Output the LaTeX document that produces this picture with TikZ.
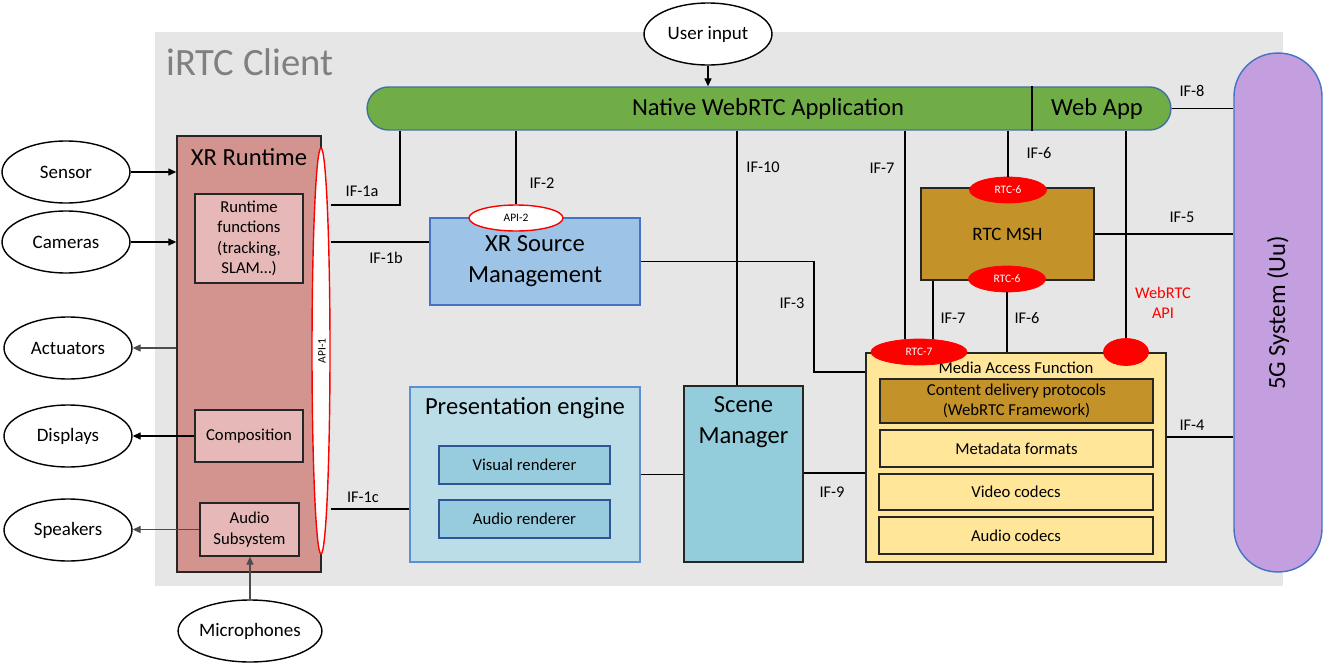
\documentclass[tikz,border=0pt]{standalone}
\usepackage{fontspec}
\setmainfont{Carlito}
\usetikzlibrary{shapes.geometric,arrows.meta}

\definecolor{clientGray}{HTML}{E6E6E6}
\definecolor{clientText}{HTML}{808080}
\definecolor{appGreen}{HTML}{70AD47}
\definecolor{appBorder}{HTML}{41719C}
\definecolor{fiveGPurple}{HTML}{C49FE0}
\definecolor{fiveGBorder}{HTML}{4472C4}
\definecolor{xrRed}{HTML}{D3948F}
\definecolor{xrPink}{HTML}{E6B9B8}
\definecolor{srcBlue}{HTML}{9DC3E6}
\definecolor{srcBorder}{HTML}{4472C4}
\definecolor{presBlue}{HTML}{BBDDE8}
\definecolor{presBorder}{HTML}{5B8FCF}
\definecolor{rendBlue}{HTML}{96CCDD}
\definecolor{rendBorder}{HTML}{2F5597}
\definecolor{sceneBlue}{HTML}{93CDDC}
\definecolor{mafYellow}{HTML}{FFE699}
\definecolor{mshGold}{HTML}{C3932A}

\begin{document}
\begin{tikzpicture}
[x=0.02cm,y=-0.02cm,
  lineDecorate/.style={-,line width=0.6pt},%
  arrowDecorate/.style={-{Triangle[length=4.5pt,width=4pt]},line width=0.6pt},%
  bigText/.style={font=\fontsize{14}{17.6}\selectfont},%
  midText/.style={font=\fontsize{9.5}{11.6}\selectfont},%
  ifText/.style={font=\fontsize{9.3}{11.4}\selectfont,inner sep=0pt},%
  tinyText/.style={font=\fontsize{6.5}{8}\selectfont},%
  nodeDecorate/.style={shape=ellipse,draw,line width=0.8pt,inner sep=0pt,
    minimum width=2.56cm,minimum height=1.24cm,fill=white,
    font=\fontsize{10.8}{13}\selectfont},%
  boxDecorate/.style 2 args={rectangle,draw=black!85,line width=0.8pt,inner sep=0pt,
    minimum width={#1*0.02cm},minimum height={#2*0.02cm},align=center},%
  rtcDecorate/.style 2 args={ellipse,fill=red,draw=red,inner sep=0pt,
    minimum width={#1*0.02cm},minimum height={#2*0.02cm},text=white,tinyText}]
\useasboundingbox (0,0) rectangle (1323,663);

%% client area
\fill[clientGray] (155,32) rectangle (1283,586);
\node[anchor=west,inner sep=0pt,text=clientText,font=\fontsize{22}{26}\selectfont]
  (title) at (166,62) {iRTC Client};

%% outside nodes
\foreach \nodename/\nodetext/\x/\y in {sensor/Sensor/66/172, cameras/Cameras/66/242,
  actuators/Actuators/68/348, displays/Displays/68/436, speakers/Speakers/68/530,
  microphones/Microphones/250/631, user/User input/708/34}
{
  \node (\nodename) at (\x,\y) [nodeDecorate] {\nodetext};
}

%% application bar and 5G system
\node[rectangle,rounded corners=0.43cm,fill=appGreen,draw=appBorder,line width=0.8pt,
  minimum width=16.08cm,minimum height=0.86cm] (app) at (769,108.5) {};
\draw[lineDecorate] (app.north -| 1032,0) -- (app.south -| 1032,0);
\node[bigText] (appText) at (768,109) {Native WebRTC Application};
\node[bigText] (webText) at (1097,109) {Web App};
\node[rectangle,rounded corners=0.87cm,fill=fiveGPurple,draw=fiveGBorder,line width=0.8pt,
  minimum width=1.76cm,minimum height=10.38cm] (fiveg) at (1278,312.5) {};
\node[bigText,rotate=90] (fivegText) at (1278,313) {5G System (Uu)};

%% XR runtime
\node[boxDecorate={144}{436},fill=xrRed] (xrrt) at (249,354) {};
\node[bigText] (xrrtText) at (249,157) {XR Runtime};
\node[boxDecorate={108}{89},fill=xrPink,midText] (rtfunc) at (249,238.5)
  {Runtime\\functions\\(tracking,\\SLAM…)};
\node[boxDecorate={108}{52},fill=xrPink,midText] (compo) at (249,436) {Composition};
\node[boxDecorate={99}{53},fill=xrPink,midText] (audiosub) at (249.5,529.5) {Audio\\Subsystem};
\node[ellipse,draw=red,fill=white,line width=0.8pt,inner sep=0pt,
  minimum width=0.36cm,minimum height=8.12cm] (api1) at (321,351) {};
\node[tinyText,rotate=90] (api1Text) at (322,351) {API-1};

%% XR source management, presentation engine, scene manager
\node[boxDecorate={210}{87},fill=srcBlue,draw=srcBorder,bigText] (xrsm) at (535,261.5)
  {XR Source\\Management};
\node[ellipse,draw=red,fill=white,line width=0.8pt,inner sep=0pt,tinyText,
  minimum width=1.88cm,minimum height=0.52cm] (api2) at (516,218) {API-2};
\node[boxDecorate={230}{175},fill=presBlue,draw=presBorder] (pres) at (525,474.5) {};
\node[bigText] (presText) at (525,408) {Presentation engine};
\node[boxDecorate={171}{38},fill=rendBlue,draw=rendBorder,midText] (visr) at (524.5,465)
  {Visual renderer};
\node[boxDecorate={171}{38},fill=rendBlue,draw=rendBorder,midText] (audr) at (524.5,519)
  {Audio renderer};
\node[boxDecorate={119}{176},fill=sceneBlue] (scene) at (743.5,474) {};
\node[bigText,align=center] (sceneText) at (743.5,422) {Scene\\Manager};

%% RTC MSH and media access function
\node[boxDecorate={173}{92},fill=mshGold,font=\fontsize{10.8}{13}\selectfont] (msh)
  at (1007.5,234) {RTC MSH};
\node[boxDecorate={300}{209},fill=mafYellow] (maf) at (1016,457.5) {};
\node[midText] (mafText) at (1016,368) {Media Access Function};
\node[boxDecorate={273}{44},fill=mshGold,midText] (cdp) at (1016.5,401)
  {Content delivery protocols\\(WebRTC Framework)};
\node[boxDecorate={273}{37},fill=mafYellow,midText] (meta) at (1016.5,448.5) {Metadata formats};
\node[boxDecorate={274}{36},fill=mafYellow,midText] (video) at (1016,492) {Video codecs};
\node[boxDecorate={274}{37},fill=mafYellow,midText] (audioc) at (1016,535.5) {Audio codecs};
\node[rtcDecorate={77}{26}] (rtc6a) at (1008,190) {RTC-6};
\node[rtcDecorate={77}{26}] (rtc6b) at (1007,279) {RTC-6};
\node[rtcDecorate={96}{26}] (rtc7) at (919,352) {RTC-7};
\node[rtcDecorate={45}{27}] (webdot) at (1126,352) {};

%% arrows to and from devices
\draw[arrowDecorate] (user.south) -- (user.south |- app.north);
\draw[arrowDecorate] (sensor.east) -- (sensor.east -| xrrt.west);
\draw[arrowDecorate] (cameras.east) -- (cameras.east -| xrrt.west);
\draw[arrowDecorate,black!70] (actuators.east -| xrrt.west) -- (actuators.east);
\draw[arrowDecorate] (compo.west) -- (compo.west -| displays.east);
\draw[arrowDecorate,black!70] (audiosub.west) -- (audiosub.west -| speakers.east);
\draw[arrowDecorate,black!70] (microphones.north) -- (microphones.north |- audiosub.south);

%% interfaces
\coordinate (if3bend) at (814,372);
\draw[lineDecorate] (api1.east |- 0,205) -| (app.south -| 400,0);
\draw[lineDecorate] (api1.east |- 0,242) -- (xrsm.west |- 0,242);
\draw[lineDecorate] (api1.east |- 0,509) -- (pres.west |- 0,509);
\draw[lineDecorate] (app.south -| api2) -- (api2.north);
\draw[lineDecorate] (xrsm.east) -| (if3bend) -- (if3bend -| maf.west);
\draw[lineDecorate] (app.south -| 737,0) -- (scene.north -| 737,0);
\draw[lineDecorate] (pres.east) -- (pres.east -| scene.west);
\draw[lineDecorate] (scene.east |- 0,473) -- (maf.west |- 0,473);
\draw[lineDecorate] (app.south -| 905,0) -- (rtc7.north -| 905,0);
\draw[lineDecorate] (app.south -| rtc6a) -- (rtc6a.north);
\draw[lineDecorate] (app.south -| webdot) -- (webdot.north);
\draw[lineDecorate] (msh.south -| 933,0) -- (rtc7.north -| 933,0);
\draw[lineDecorate] (rtc6b.south) -- (rtc6b.south |- maf.north);
\draw[lineDecorate] (msh.east) -- (msh.east -| fiveg.west);
\draw[lineDecorate] (app.east) -- (app.east -| fiveg.west);
\draw[lineDecorate] (maf.east |- 0,437) -- (fiveg.west |- 0,437);

%% interface labels
\foreach \nodename/\nodetext/\x/\y in {if1a/IF-1a/362/191, if1b/IF-1b/386/258,
  if1c/IF-1c/363/497, if2/IF-2/542/183, if3/IF-3/792/303, if10/IF-10/763/167,
  if7a/IF-7/882/168, if6a/IF-6/1039/153, if5/IF-5/1182/217, if8/IF-8/1192/91,
  if7b/IF-7/953/318, if6b/IF-6/1027/318, if4/IF-4/1192/425, if9/IF-9/832/492}
{
  \node[ifText] (\nodename) at (\x,\y) {\nodetext};
}
\node[ifText,text=red,align=center] (webapi) at (1163,303) {WebRTC\\API};
\end{tikzpicture}
\end{document}
